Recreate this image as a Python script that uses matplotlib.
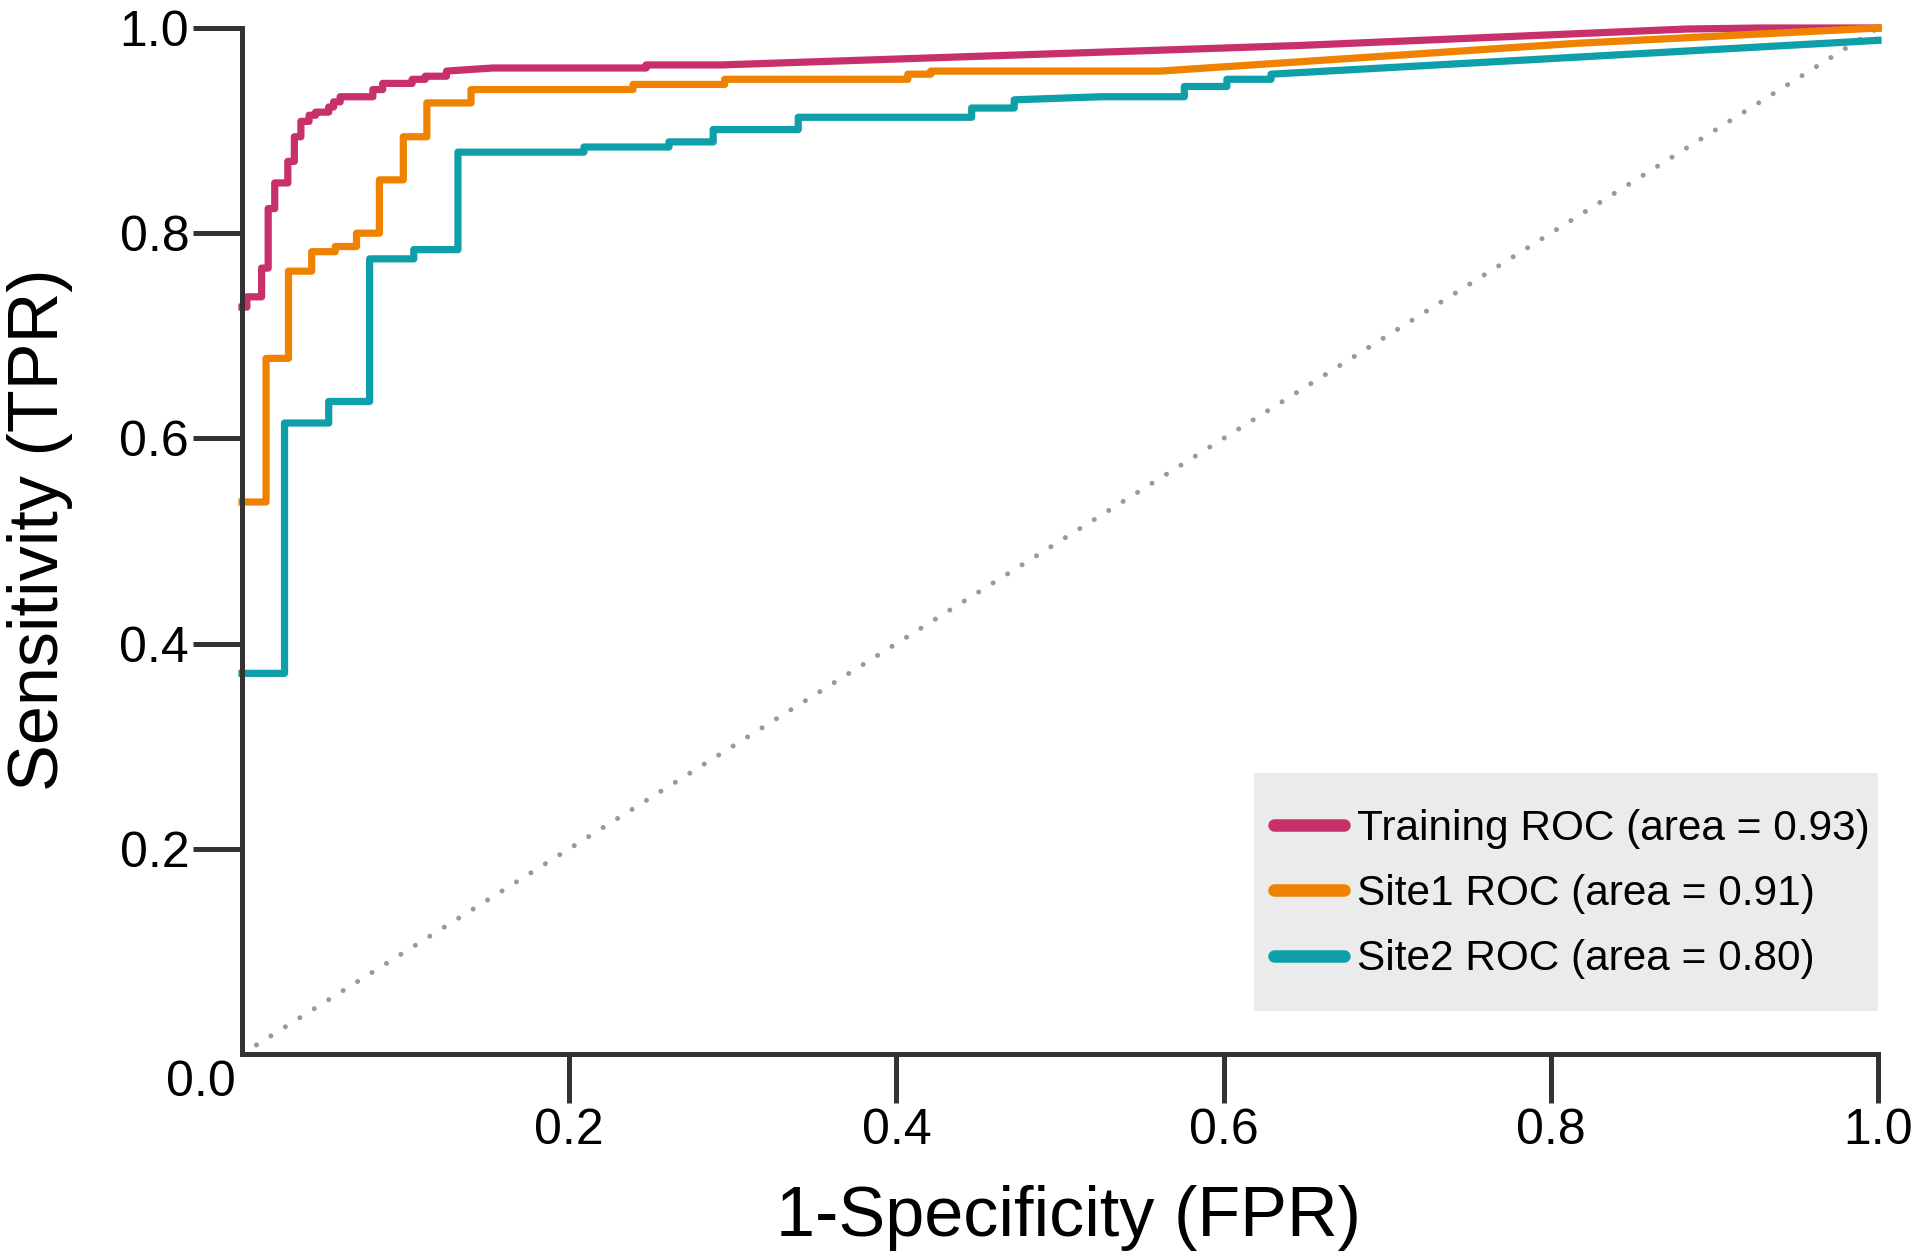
import matplotlib
matplotlib.use("Agg")
import matplotlib.pyplot as plt
from matplotlib.patches import Rectangle

plt.rcParams['font.family'] = ['Liberation Sans', 'DejaVu Sans']

# ROC curve vertices (fpr, tpr)
train_fpr = [0.000, 0.003, 0.003, 0.012, 0.012, 0.016, 0.016, 0.020, 0.020, 0.028,
             0.028, 0.032, 0.032, 0.036, 0.036, 0.041, 0.041, 0.045, 0.045, 0.053,
             0.053, 0.056, 0.056, 0.060, 0.060, 0.080, 0.080, 0.086, 0.086, 0.104,
             0.104, 0.112, 0.112, 0.125, 0.125, 0.153, 0.247, 0.247, 0.293, 0.647,
             0.883, 0.928, 1.000]
train_tpr = [0.728, 0.728, 0.738, 0.738, 0.766, 0.766, 0.824, 0.824, 0.849, 0.849,
             0.870, 0.870, 0.894, 0.894, 0.909, 0.909, 0.915, 0.915, 0.918, 0.918,
             0.923, 0.923, 0.928, 0.928, 0.933, 0.933, 0.940, 0.940, 0.946, 0.946,
             0.950, 0.950, 0.953, 0.953, 0.958, 0.961, 0.961, 0.964, 0.964, 0.983,
             0.999, 1.000, 1.000]

site1_fpr = [0.000, 0.0147, 0.0147, 0.0284, 0.0284, 0.0426, 0.0426, 0.057, 0.057, 0.070,
             0.070, 0.084, 0.084, 0.0986, 0.0986, 0.113, 0.113, 0.140, 0.140, 0.239,
             0.239, 0.295, 0.295, 0.407, 0.407, 0.421, 0.421, 0.561, 0.815, 1.000]
site1_tpr = [0.538, 0.538, 0.678, 0.678, 0.763, 0.763, 0.782, 0.782, 0.787, 0.787,
             0.800, 0.800, 0.852, 0.852, 0.894, 0.894, 0.927, 0.927, 0.940, 0.940,
             0.945, 0.945, 0.950, 0.950, 0.955, 0.955, 0.958, 0.958, 0.985, 1.000]

site2_fpr = [0.000, 0.026, 0.026, 0.053, 0.053, 0.078, 0.078, 0.105, 0.105, 0.132,
             0.132, 0.209, 0.209, 0.261, 0.261, 0.288, 0.288, 0.340, 0.340, 0.446,
             0.446, 0.472, 0.472, 0.525, 0.576, 0.576, 0.602, 0.602, 0.629, 0.629,
             0.978, 1.000]
site2_tpr = [0.371, 0.371, 0.615, 0.615, 0.636, 0.636, 0.775, 0.775, 0.784, 0.784,
             0.879, 0.879, 0.884, 0.884, 0.889, 0.889, 0.901, 0.901, 0.913, 0.913,
             0.922, 0.922, 0.930, 0.933, 0.933, 0.943, 0.943, 0.950, 0.950, 0.955,
             0.986, 0.988]

labels = ['Training ROC (area = 0.93)', 'Site1 ROC (area = 0.91)', 'Site2 ROC (area = 0.80)']
colors = ['#c8306c', '#ef8200', '#0e9fa8']
ticks = [0.2, 0.4, 0.6, 0.8, 1.0]
tick_labels = ['0.2', '0.4', '0.6', '0.8', '1.0']

fig = plt.figure(figsize=(19.2, 12.58), dpi=100)
ax = fig.add_axes([242/1920, 1 - 1054/1258, 1636/1920, 1026/1258])

ax.plot([0, 1], [0, 1], color='#999999', lw=3.6, linestyle=(0, (0.01, 3.4)),
        dash_capstyle='round', zorder=1)

curves = [(train_fpr, train_tpr), (site1_fpr, site1_tpr), (site2_fpr, site2_tpr)]
for (fx, ty), lab, c in zip(curves, labels, colors):
    ax.plot(fx, ty, color=c, lw=5.2, label=lab, clip_on=False,
            solid_joinstyle='round', zorder=2)

ax.set_xlim(0, 1)
ax.set_ylim(0, 1)
ax.set_xticks(ticks)
ax.set_xticklabels(tick_labels)
ax.set_yticks(ticks)
ax.set_yticklabels(tick_labels)

for s in ['top', 'right']:
    ax.spines[s].set_visible(False)
for s in ['left', 'bottom']:
    ax.spines[s].set_linewidth(3.6)
    ax.spines[s].set_color('#333333')
    ax.spines[s].set_zorder(3)

ax.tick_params(axis='both', direction='out', length=35, width=3.6, color='#333333',
               labelsize=36, labelcolor='black')
ax.tick_params(axis='x', pad=4)
ax.tick_params(axis='y', pad=3)

ax.text(-0.025, -0.028, '0.0', fontsize=36, ha='center', va='center')

fig.text(1069/1920, 1 - 1218/1258, '1-Specificity (FPR)', fontsize=50.5,
         ha='center', va='center')
fig.text(40/1920, 1 - 530/1258, 'Sensitivity (TPR)', fontsize=50.5,
         ha='center', va='center', rotation=90)

# grey legend background box
ax.add_patch(Rectangle((0.6186, 0.0419), 0.3814, 0.232, transform=ax.transAxes,
                       facecolor='#ebebeb', edgecolor='none', zorder=4))

leg = ax.legend(loc='center left', bbox_to_anchor=(0.631, 0.156), fontsize=30.5,
                frameon=False, borderpad=0, labelspacing=0.6,
                handlelength=1.65, handletextpad=0.3, borderaxespad=0)
leg.set_zorder(5)
for line in leg.get_lines():
    line.set_linewidth(9)
    line.set_solid_capstyle('round')

fig.savefig('out.png', dpi=100)
